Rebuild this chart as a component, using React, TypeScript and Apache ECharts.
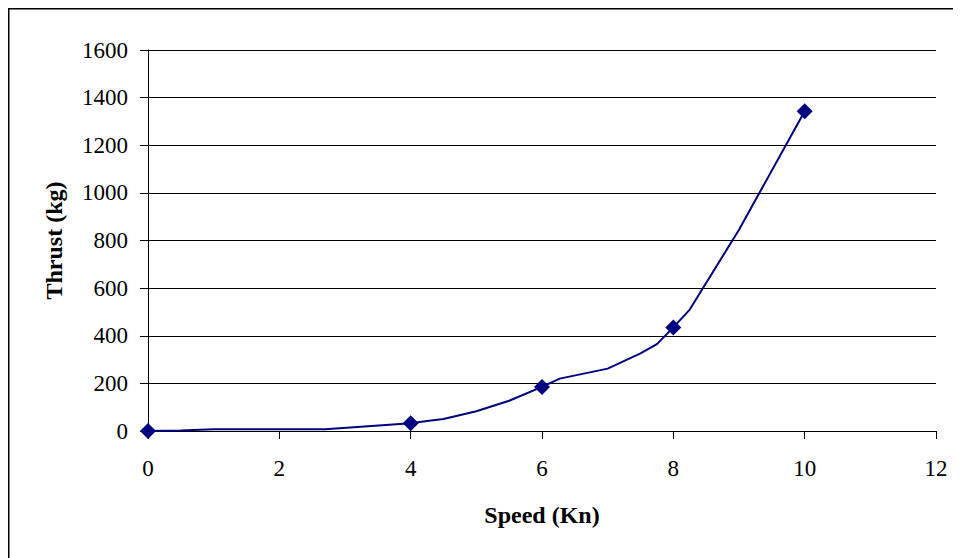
import React, { useEffect, useRef } from "react";
import * as echarts from "echarts";

const curveSpeed = [0, 0.5, 1, 2.7, 4, 4.25, 4.5, 5, 5.5, 6, 6.27, 7, 7.5, 7.75, 8, 8.25, 9, 10];
const curveThrust = [0, 2, 7, 7, 33, 42, 50, 83, 127, 185, 220, 262, 326, 365, 435, 510, 845, 1343];

const pointSpeed = [0, 4, 6, 8, 10];
const pointThrust = [0, 33, 185, 435, 1343];

const xTicks = [0, 2, 4, 6, 8, 10, 12];
const yTicks = [0, 200, 400, 600, 800, 1000, 1200, 1400, 1600];

const FONT = "Liberation Serif";
const NAVY = "#000080";

export default function App() {
  const ref = useRef<HTMLDivElement>(null);
  useEffect(() => {
    if (!ref.current) return;
    const chart = echarts.init(ref.current, null, { renderer: "svg" });
    const W = 953;
    const H = 550;
    chart.setOption({
      animation: false,
      backgroundColor: "#ffffff",
      grid: { left: 140, right: 25, top: 42, bottom: 127, containLabel: false },
      graphic: [
        { type: "line", shape: { x1: 0, y1: 0.5, x2: W, y2: 0.5 }, style: { stroke: "#000", lineWidth: 2 } },
        { type: "line", shape: { x1: 0.5, y1: 0, x2: 0.5, y2: H }, style: { stroke: "#000", lineWidth: 2 } },
      ],
      xAxis: {
        type: "value",
        min: xTicks[0],
        max: xTicks[xTicks.length - 1],
        interval: 2,
        name: "Speed (Kn)",
        nameLocation: "middle",
        nameGap: 72,
        nameTextStyle: { fontFamily: FONT, fontSize: 24, fontWeight: "bold", color: "#000" },
        axisLine: { show: true, lineStyle: { color: "#000", width: 1 } },
        axisTick: { show: true, inside: false, length: 8, lineStyle: { color: "#000" } },
        axisLabel: { fontFamily: FONT, fontSize: 23, color: "#000", margin: 26, formatter: (v: number) => String(v) },
        splitLine: { show: false },
      },
      yAxis: {
        type: "value",
        min: yTicks[0],
        max: yTicks[yTicks.length - 1],
        interval: 200,
        name: "Thrust (kg)",
        nameLocation: "middle",
        nameGap: 82,
        nameRotate: 90,
        nameTextStyle: { fontFamily: FONT, fontSize: 24, fontWeight: "bold", color: "#000" },
        axisLine: { show: true, lineStyle: { color: "#000", width: 1 } },
        axisTick: { show: true, inside: false, length: 8, lineStyle: { color: "#000" } },
        axisLabel: { fontFamily: FONT, fontSize: 23, color: "#000", margin: 20, formatter: (v: number) => String(v) },
        splitLine: { show: true, lineStyle: { color: "#000", width: 1 } },
      },
      series: [
        {
          type: "line",
          data: curveSpeed.map((s, i) => [s, curveThrust[i]]),
          showSymbol: false,
          symbol: "none",
          lineStyle: { color: NAVY, width: 2 },
          z: 2,
        },
        {
          type: "scatter",
          data: pointSpeed.map((s, i) => [s, pointThrust[i]]),
          symbol: "diamond",
          symbolSize: 16,
          itemStyle: { color: NAVY, opacity: 1 },
          z: 3,
        },
      ],
    });
    return () => chart.dispose();
  }, []);
  return <div ref={ref} style={{ width: 953, height: 550 }} />;
}
